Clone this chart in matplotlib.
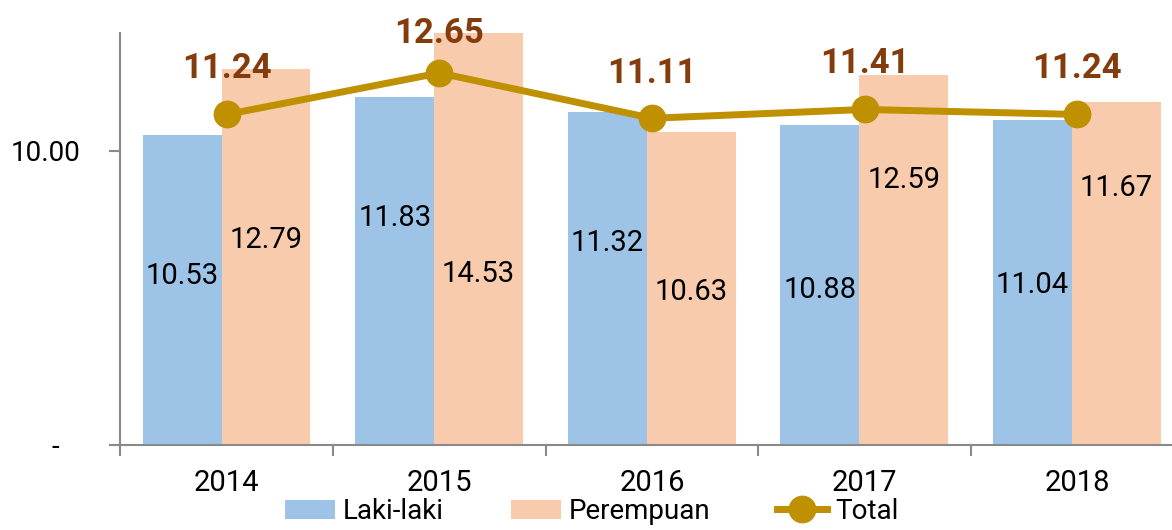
import matplotlib
matplotlib.use("Agg")
from matplotlib import pyplot as plt
from matplotlib.patches import Patch
from matplotlib.lines import Line2D
import numpy as np

years = ["2014", "2015", "2016", "2017", "2018"]
laki = [10.53, 11.83, 11.32, 10.88, 11.04]
perempuan = [12.79, 14.53, 10.63, 12.59, 11.67]
total = [11.24, 12.65, 11.11, 11.41, 11.24]

# where the value labels sit inside the bars (data units)
laki_label_y = [5.74, 7.71, 6.86, 5.27, 5.44]
perempuan_label_y = [6.97, 5.81, 5.2, 9.0, 8.73]
total_label_offset = [46, 39, 45, 46, 46]

blue = "#9DC3E6"
peach = "#F8CBAD"
gold = "#BF9000"
brown = "#843C0C"
grey = "#898989"

plt.rcParams["font.family"] = ["Liberation Sans Narrow", "Roboto", "DejaVu Sans"]

fig = plt.figure(figsize=(11.72, 5.3), dpi=100)
ax = fig.add_axes([0.1028, 0.1604, 0.907, 0.7768])

x = np.arange(len(years))
ax.bar(x - 0.21, laki, width=0.372, color=blue, zorder=1)
ax.bar(x + 0.1845, perempuan, width=0.417, color=peach, zorder=1)
ax.plot(x, total, color=gold, lw=5, marker="o", ms=19, zorder=3,
        solid_capstyle="round")

for i in range(len(years)):
    ax.text(x[i] - 0.21, laki_label_y[i], f"{laki[i]:.2f}", ha="center",
            va="center", fontsize=21, color="black")
    ax.text(x[i] + 0.1845, perempuan_label_y[i], f"{perempuan[i]:.2f}",
            ha="center", va="center", fontsize=21, color="black")
    ax.annotate(f"{total[i]:.2f}", (x[i], total[i]),
                xytext=(0, total_label_offset[i] * 0.72), textcoords="offset points",
                ha="center", va="center", fontsize=25, fontweight="bold",
                color=brown, annotation_clip=False, zorder=4)

ax.set_xlim(-0.5, len(years) - 0.5)
ax.set_ylim(0, 14)

for side in ["top", "right"]:
    ax.spines[side].set_visible(False)
for side in ["left", "bottom"]:
    ax.spines[side].set_color(grey)
    ax.spines[side].set_linewidth(1.5)

ax.set_yticks([0, 10])
ax.set_yticklabels(["-   ", "10.00"])
ax.tick_params(axis="y", length=8, width=1.5, color=grey, pad=21, labelsize=20)

ax.set_xticks(x)
ax.set_xticklabels(years)
ax.set_xticks(np.arange(len(years) + 1) - 0.5, minor=True)
ax.tick_params(axis="x", which="major", length=0, pad=17, labelsize=21)
ax.tick_params(axis="x", which="minor", length=8, width=1.5, color=grey)

handles = [
    Patch(facecolor=blue, label="Laki-laki"),
    Patch(facecolor=peach, label="Perempuan"),
    Line2D([0], [0], color=gold, lw=5, marker="o", ms=19, label="Total"),
]
fig.legend(handles=handles, loc="center", bbox_to_anchor=(0.505, 0.035),
           ncol=3, frameon=False, fontsize=20, handlelength=1.8,
           handleheight=0.7, handletextpad=0.3, columnspacing=2.4,
           borderpad=0.1)

fig.savefig("out.png", dpi=100)
